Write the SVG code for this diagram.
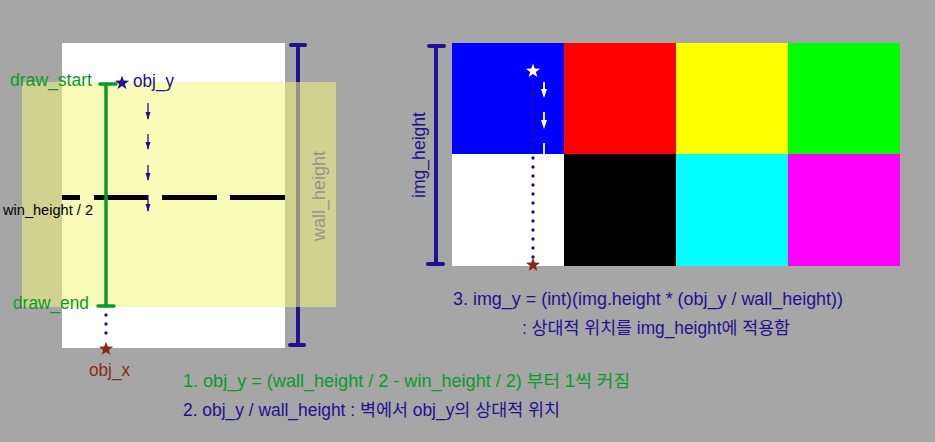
<svg xmlns="http://www.w3.org/2000/svg" xmlns:xlink="http://www.w3.org/1999/xlink" width="935" height="442" viewBox="0 0 935 442">
<defs>
<style>
text{font-family:"Liberation Sans","Noto Sans CJK KR",sans-serif;}
.navy{fill:#22118f;}
.green{fill:#0a9a2c;}
.brown{fill:#8b2a12;}
.bar{stroke:#22118f;stroke-width:4;stroke-linecap:round;fill:none;}
.gbar{stroke:#0a9a2c;stroke-width:3.5;stroke-linecap:round;fill:none;}
.dots{stroke:#22118f;stroke-width:3.4;stroke-linecap:round;stroke-dasharray:0 9;fill:none;}
.arr{stroke:#22118f;stroke-width:1.3;fill:none;}
.warr{stroke:#ffffff;stroke-width:1.8;fill:none;}
</style>
<polygon id="star" points="0,-7.5 1.76,-2.42 7.13,-2.32 2.85,0.92 4.41,6.07 0,3 -4.41,6.07 -2.85,0.92 -7.13,-2.32 -1.76,-2.42"/>
</defs>
<rect x="0" y="0" width="935" height="442" fill="#a6a6a6"/>

<g id="wall">
<rect x="62" y="43" width="223" height="305" fill="#ffffff"/>
</g>
<g id="wall-height-bar">
<line class="bar" x1="298" y1="45" x2="298" y2="345"/>
<line class="bar" x1="291" y1="45" x2="305" y2="45" stroke-width="5"/>
<line class="bar" x1="290" y1="345" x2="304" y2="345" stroke-width="5"/>
<text x="0" y="0" font-size="18" class="navy" transform="translate(325 241) rotate(-90)" textLength="90" lengthAdjust="spacingAndGlyphs">wall_height</text>
</g>
<g id="screen">
<rect x="22" y="82" width="314" height="225" fill="#f1f87e" fill-opacity="0.556"/>
</g>
<g id="win-half-line">
<line x1="62" y1="197.5" x2="285" y2="197.5" stroke="#000" stroke-width="5" stroke-dasharray="18 14 54 14 55 13 55"/>
</g>
<g id="draw-range">
<line class="gbar" x1="106" y1="84" x2="106" y2="306"/>
<line class="gbar" x1="100" y1="84" x2="116" y2="84" stroke-width="4"/>
<line class="gbar" x1="98" y1="306" x2="114" y2="306" stroke-width="4"/>
<text x="10" y="86" font-size="17.5" class="green" textLength="82" lengthAdjust="spacingAndGlyphs">draw_start</text>
<text x="13" y="309" font-size="17.5" class="green" textLength="76" lengthAdjust="spacingAndGlyphs">draw_end</text>
</g>
<g id="win-label">
<text x="3" y="215" font-size="14.5" fill="#000" textLength="90" lengthAdjust="spacingAndGlyphs">win_height / 2</text>
</g>
<g id="obj-y">
<use xlink:href="#star" x="122" y="83" fill="#22118f"/>
<text x="133" y="87" font-size="17.5" class="navy" textLength="41" lengthAdjust="spacingAndGlyphs">obj_y</text>
</g>
<g id="obj-x">
<use xlink:href="#star" x="106" y="349" fill="#8b2a12"/>
<text x="89" y="376" font-size="17.5" class="brown" textLength="41" lengthAdjust="spacingAndGlyphs">obj_x</text>
</g>

<g id="image">
<rect x="452" y="43" width="112" height="111" fill="#0000ff"/>
<rect x="564" y="43" width="112" height="111" fill="#ff0000"/>
<rect x="676" y="43" width="112" height="111" fill="#ffff00"/>
<rect x="788" y="43" width="112" height="111" fill="#00ff00"/>
<rect x="452" y="154" width="112" height="112" fill="#ffffff"/>
<rect x="564" y="154" width="112" height="112" fill="#000000"/>
<rect x="676" y="154" width="112" height="112" fill="#00ffff"/>
<rect x="788" y="154" width="112" height="112" fill="#ff00ff"/>
</g>
<g id="img-height-bar">
<line class="bar" x1="436" y1="46" x2="436" y2="264"/>
<line class="bar" x1="429" y1="46" x2="444" y2="46" stroke-width="5"/>
<line class="bar" x1="428" y1="264" x2="443" y2="264" stroke-width="5"/>
<text x="0" y="0" font-size="18" class="navy" transform="translate(425 198) rotate(-90)" textLength="86" lengthAdjust="spacingAndGlyphs">img_height</text>
</g>
<g id="img-obj">
<use xlink:href="#star" x="533" y="71" fill="#ffffff"/>
<use xlink:href="#star" x="533" y="265" fill="#8b2a12"/>
</g>

<g id="connectors">
<line class="dots" x1="106" y1="315" x2="106" y2="336"/>
<line class="dots" x1="533" y1="86" x2="533" y2="260"/>
<line class="arr" x1="148" y1="103" x2="148" y2="119"/>
<path d="M145.5,112 L148,120 L150.5,112 Z" fill="#22118f"/>
<line class="arr" x1="148" y1="134" x2="148" y2="149"/>
<path d="M145.5,142 L148,150 L150.5,142 Z" fill="#22118f"/>
<line class="arr" x1="148" y1="165" x2="148" y2="180"/>
<path d="M145.5,173 L148,181 L150.5,173 Z" fill="#22118f"/>
<line class="arr" x1="148" y1="195" x2="148" y2="211"/>
<path d="M145.5,204 L148,212 L150.5,204 Z" fill="#22118f"/>
<line class="warr" x1="544" y1="82" x2="544" y2="96"/>
<path d="M541,89 L544,98 L547,89 Z" fill="#ffffff"/>
<line class="warr" x1="544" y1="112" x2="544" y2="127"/>
<path d="M541,120 L544,129 L547,120 Z" fill="#ffffff"/>
<line class="warr" x1="544" y1="143" x2="544" y2="154"/>
</g>

<g id="notes">
<text x="453" y="305" font-size="17.5" class="navy" textLength="390" lengthAdjust="spacingAndGlyphs">3. img_y = (int)(img.height * (obj_y / wall_height))</text>
<text x="522" y="334" font-size="17.5" class="navy" textLength="268" lengthAdjust="spacingAndGlyphs">: 상대적 위치를 img_height에 적용함</text>
<text x="183" y="387" font-size="17.5" class="green" textLength="447" lengthAdjust="spacingAndGlyphs">1. obj_y = (wall_height / 2 - win_height / 2) 부터 1씩 커짐</text>
<text x="183" y="416" font-size="17.5" class="navy" textLength="377" lengthAdjust="spacingAndGlyphs">2. obj_y / wall_height : 벽에서 obj_y의 상대적 위치</text>
</g>
</svg>
